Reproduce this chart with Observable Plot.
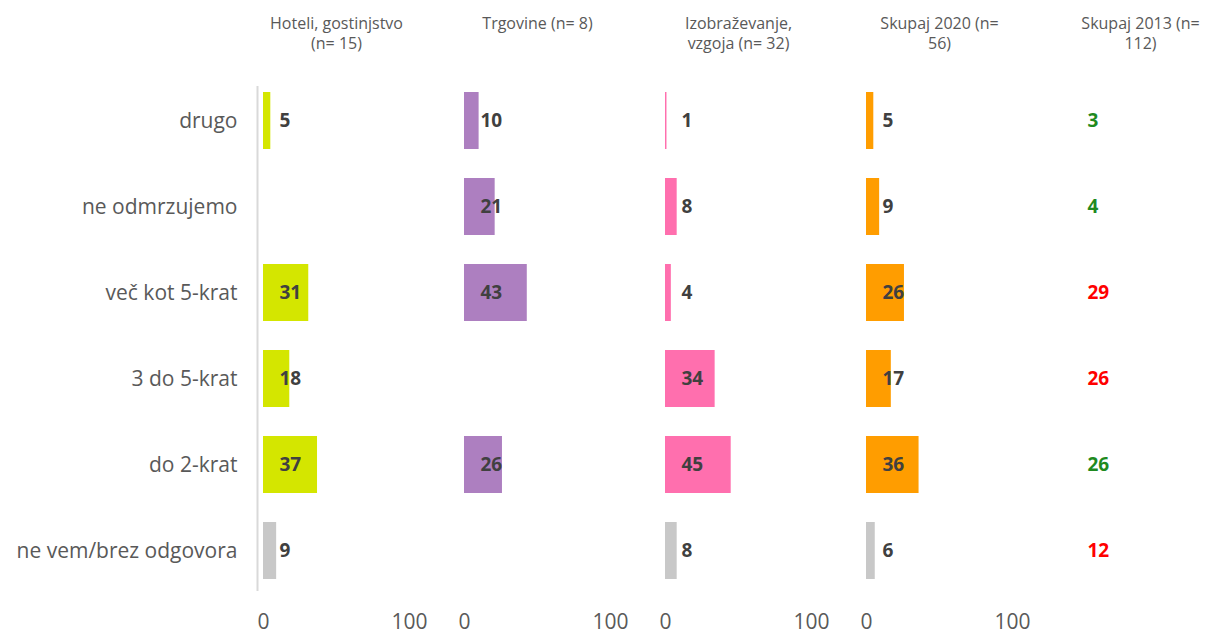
<!DOCTYPE html>
<html><head><meta charset="utf-8">
<script src="https://cdn.jsdelivr.net/npm/d3@7"></script>
<script src="https://cdn.jsdelivr.net/npm/@observablehq/plot@0.6"></script>
<style>body{margin:0;background:#fff;font-family:"Open Sans",sans-serif;}</style>
</head><body><div id="chart"></div>
<script>
const categories = ["drugo", "ne odmrzujemo", "več kot 5-krat", "3 do 5-krat", "do 2-krat", "ne vem/brez odgovora"];
const groups = ["Hoteli, gostinjstvo\n(n= 15)", "Trgovine (n= 8)", "Izobraževanje,\nvzgoja (n= 32)", "Skupaj 2020 (n=\n56)", "Skupaj 2013 (n=\n112)"];
const hoteli = [5, null, 31, 18, 37, 9];
const trgovine = [10, 21, 43, null, 26, null];
const izobrazevanje = [1, 8, 4, 34, 45, 8];
const skupaj2020 = [5, 9, 26, 17, 36, 6];
const skupaj2013 = [3, 4, 29, 26, 26, 12];
const xTicks = [0, 100];

const groupColors = ["#d4e600", "#ad7fc0", "#ff6fae", "#ff9d00"];
const noAnswerColor = "#c8c8c8";
const labelGray = "#595959";

const series = [hoteli, trgovine, izobrazevanje, skupaj2020];
const rows = series.flatMap((vals, gi) => vals.map((v, i) => ({
  group: groups[gi], category: categories[i], value: v,
  color: i === categories.length - 1 ? noAnswerColor : groupColors[gi]
})).filter(d => d.value != null));
const rows2013 = skupaj2013.map((v, i) => ({
  group: groups[4], category: categories[i], value: v,
  color: skupaj2020[i] > v ? "#1f8a1f" : "#ff0000"
}));
const catRows = categories.map(c => ({group: groups[0], category: c}));
const tickRows = groups.slice(0, 4).flatMap(g => xTicks.map(t => ({group: g, tick: t})));
const headRows = groups.map(g => ({group: g}));

const chart = Plot.plot({
  width: 1213, height: 636,
  marginLeft: 263, marginRight: 0, marginTop: 61, marginBottom: 27,
  style: {fontFamily: "'Open Sans', sans-serif", background: "#fff"},
  fx: {domain: groups, paddingInner: 0.274, paddingOuter: 0, axis: null},
  x: {domain: [0, 100], axis: null},
  y: {domain: categories, padding: 0.34, axis: null},
  color: {type: "identity"},
  marks: [
    Plot.ruleX([{group: groups[0]}], {fx: "group", x: () => 0, y1: () => categories[0], y2: () => categories[5],
      insetTop: -6, insetBottom: -12, dx: -6, stroke: "#d9d9d9", strokeWidth: 2}),
    Plot.barX(rows, {fx: "group", y: "category", x: "value", fill: "color"}),
    Plot.text(rows, {fx: "group", y: "category", x: () => 0, text: d => String(d.value), textAnchor: "start",
      dx: 16, fontSize: 19, fontWeight: "bold", fill: "#404040"}),
    Plot.text(rows2013, {fx: "group", y: "category", x: () => 0, text: d => String(d.value), textAnchor: "start",
      dx: 20, fontSize: 19, fontWeight: "bold", fill: "color"}),
    Plot.text(catRows, {fx: "group", y: "category", text: "category", frameAnchor: "left", textAnchor: "end",
      dx: -26, fontSize: 21, fill: labelGray}),
    Plot.text(headRows, {fx: "group", text: "group", frameAnchor: "top", lineAnchor: "top",
      dy: -47, fontSize: 16, lineHeight: 1.25, fill: labelGray}),
    Plot.text(tickRows, {fx: "group", x: "tick", text: d => String(d.tick), frameAnchor: "bottom",
      lineAnchor: "middle", dy: 13, fontSize: 21, fill: labelGray})
  ]
});
document.getElementById("chart").appendChild(chart);
</script>
</body></html>
